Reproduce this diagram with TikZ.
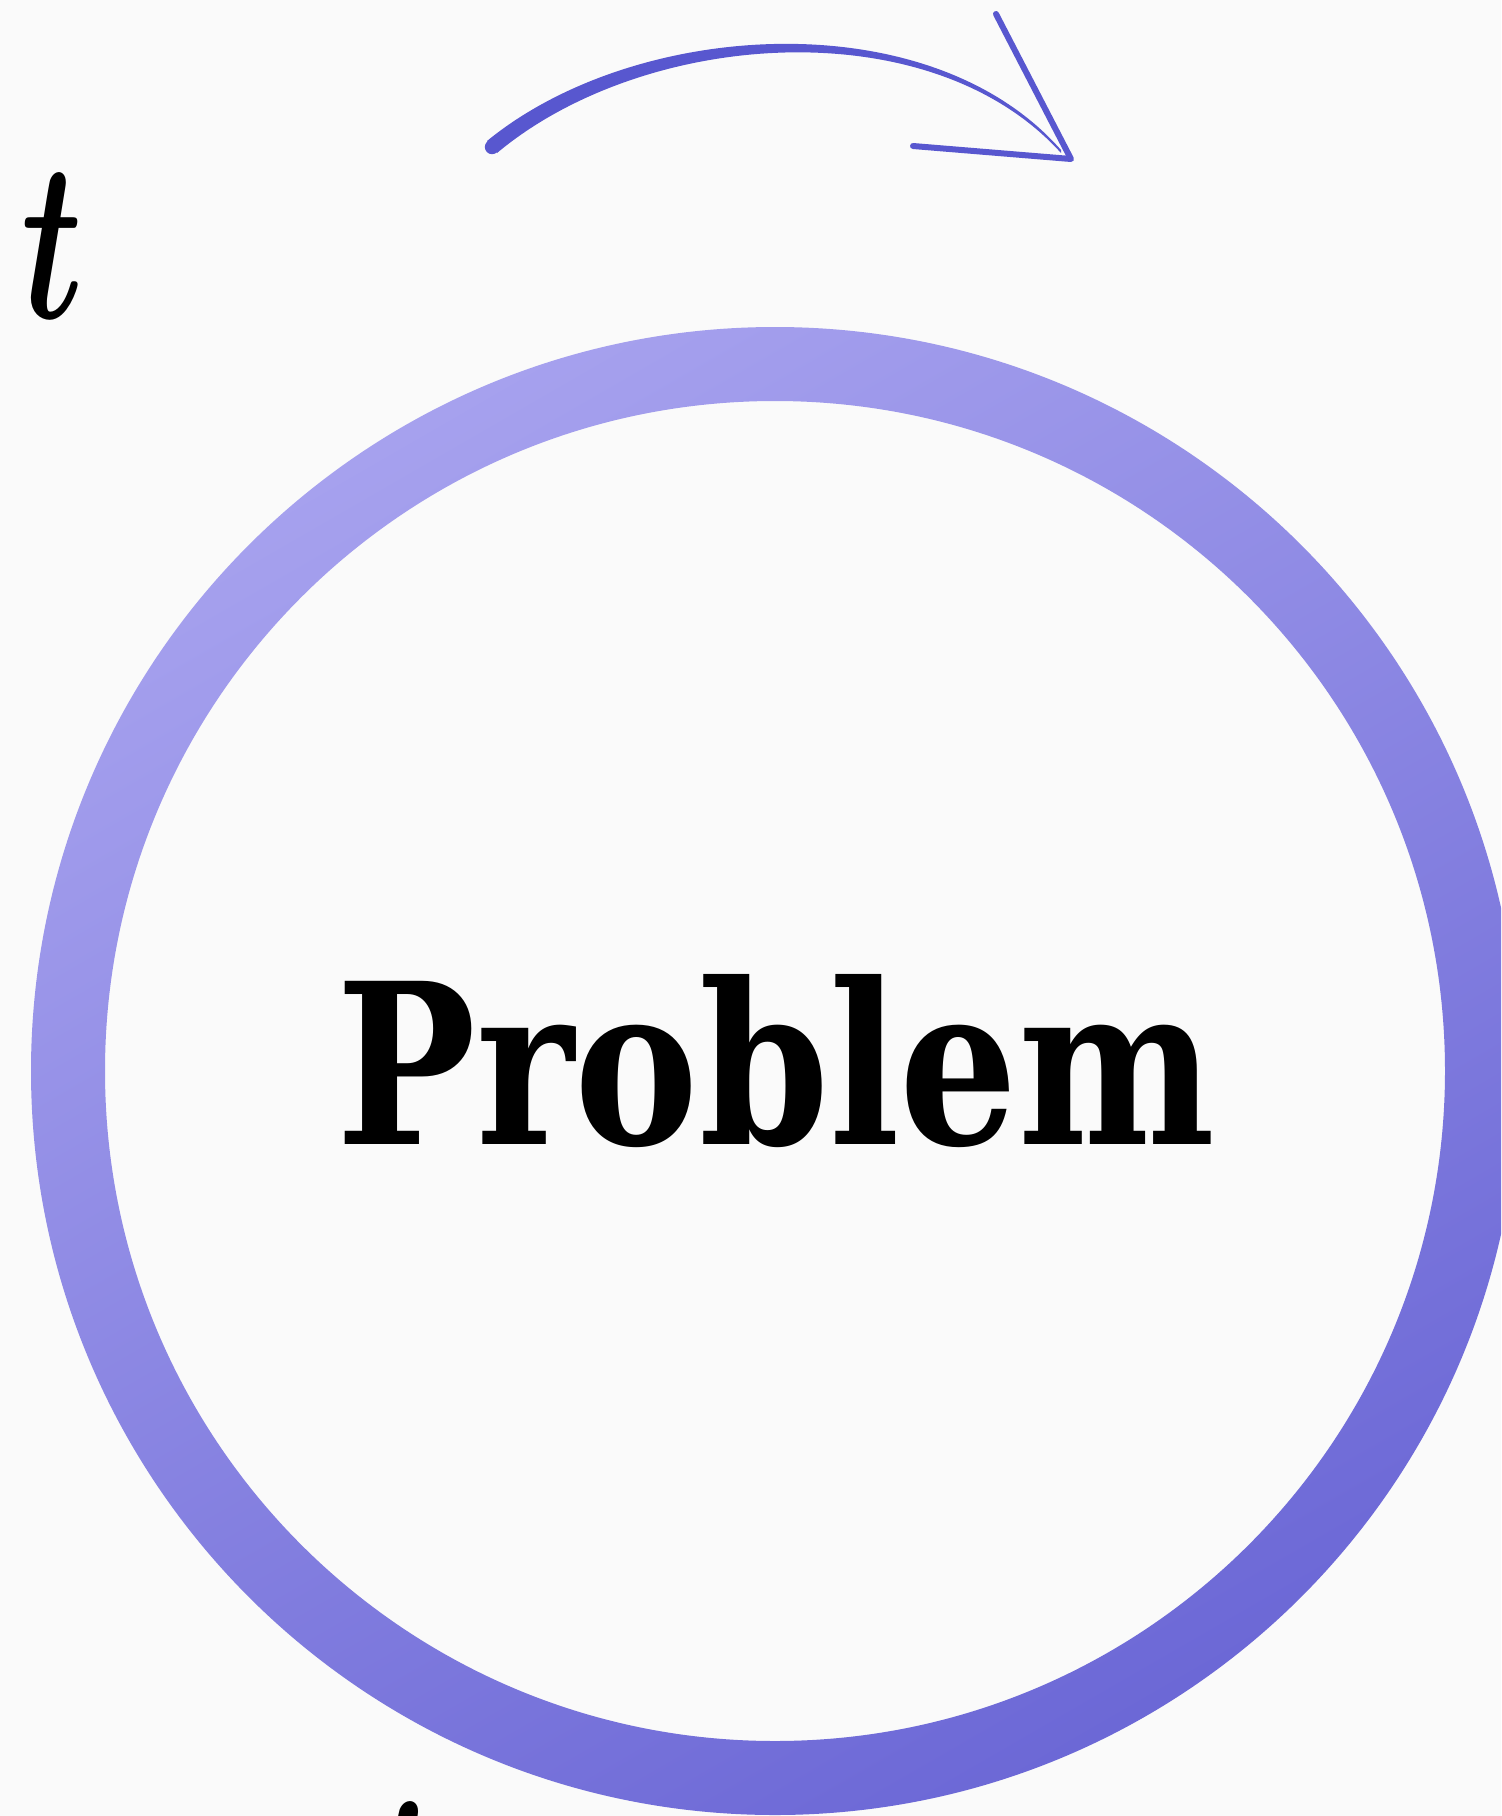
\documentclass[tikz,border=0pt]{standalone}
\usepackage{fontspec}
\setmainfont{DejaVu Serif}
\usepackage{graphicx}
\definecolor{bgc}{HTML}{FAFAFA}
\definecolor{ringlight}{HTML}{A6A1EE}
\definecolor{ringdark}{HTML}{6C68D6}
\definecolor{arrowc}{HTML}{5857CF}
\begin{document}
\begin{tikzpicture}[x=0.5pt,y=-0.5pt,
  headline/.style={draw=arrowc, line width=3pt, line cap=round, line join=round},
  lbl/.style={inner sep=0pt, outer sep=0pt}]
\useasboundingbox (0,0) rectangle (1501,1816);
\fill[bgc] (0,0) rectangle (1501,1816);
\clip (0,0) rectangle (1501,1816);
% ring
\shade[even odd rule, top color=ringlight, bottom color=ringdark, shading angle=30]
  (775,1071) circle[radius=372pt] (775,1071) circle[radius=335pt];
% text
\node[lbl, anchor=base] (problem) at (776,1144) {\resizebox{439pt}{85pt}{\bfseries Problem}};
\node[lbl, anchor=north west] (t1) at (21,174) {\resizebox*{31pt}{72pt}{\boldmath$t$}};
\node[lbl, anchor=north west] (t2) at (366,1803) {\resizebox*{36pt}{72pt}{\boldmath$t$}};
% arrow
\coordinate (astart) at (492,147);
\coordinate (atip) at (1071,159);
\coordinate (ahead1) at (996,14);
\coordinate (ahead2) at (913,146);
\fill[arrowc] (487,141) .. controls (636,19) and (930,1) .. (1061,150)
  -- (1061,153) .. controls (930,8) and (644,30) .. (497,153) -- cycle;
\fill[arrowc] (astart) circle[radius=3.6pt];
\draw[headline] (ahead1) -- (atip) -- (ahead2);
\end{tikzpicture}
\end{document}
